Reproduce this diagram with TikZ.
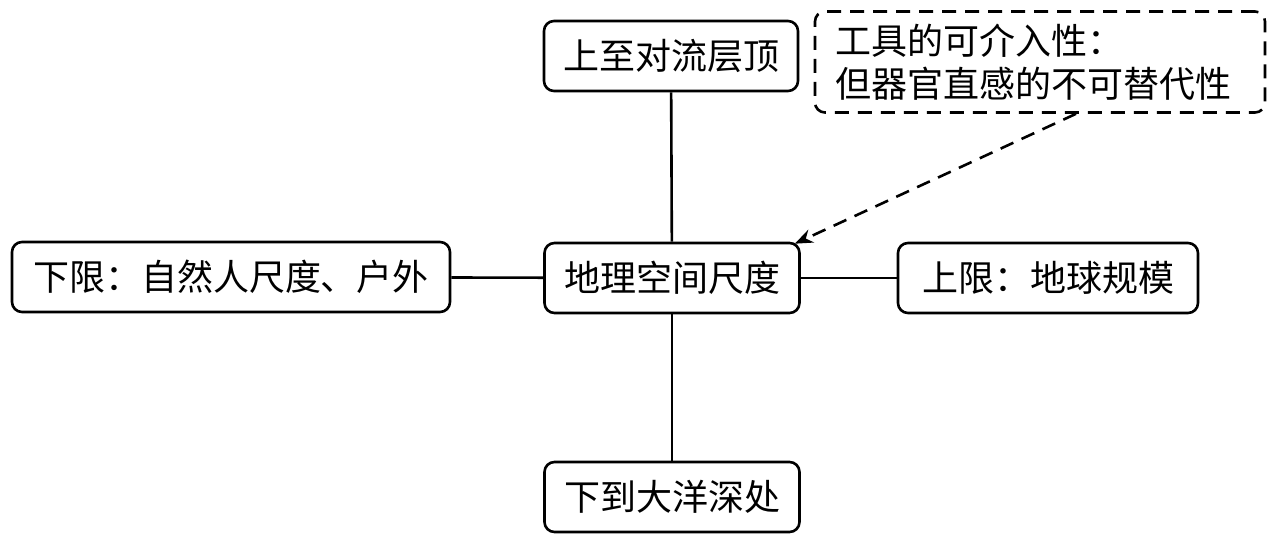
\documentclass[tikz,border=0pt]{standalone}
\usepackage{fontspec}
\setmainfont{Noto Sans CJK SC}
\usetikzlibrary{positioning,arrows.meta,calc}

\begin{document}
\begin{tikzpicture}[
    x=0.5pt, y=-0.5pt,
    box/.style={
        draw, rounded corners=5pt, minimum height=35pt,
        align=center, font=\fontsize{18}{21.5}\selectfont, line width=1.3pt,
        inner sep=0pt
    },
    note/.style={
        box, dashed, dash pattern=on 7pt off 4.5pt, align=left
    },
    link/.style={line width=1.3pt},
    dashed arr/.style={-{Stealth[length=9pt,width=7pt]}, line width=1.3pt,
        dash pattern=on 7pt off 4.5pt}
]
    \useasboundingbox (0,0) rectangle (1271,536);

    \node[box, minimum width=127.5pt] (hub) at (672, 278) {地理空间尺度};
    \node[box, minimum width=127pt] (top) at (671, 56) {上至对流层顶};
    \node[box, minimum width=127.5pt] (bottom) at (672, 497) {下到大洋深处};
    \node[box, minimum width=219pt] (lower) at (231, 277) {下限：自然人尺度、户外};
    \node[box, minimum width=150pt] (upper) at (1048, 278) {上限：地球规模};

    \node[note, minimum width=225pt, minimum height=50.5pt, text width=205pt] (tool) at (1040, 62)
        {工具的可介入性：\\但器官直感的不可替代性};

    \draw[link] (hub) -- (top);
    \draw[link] (hub) -- (bottom);
    \draw[link] (hub) -- (lower);
    \draw[link] (hub) -- (upper);
    \draw[dashed arr] ([xshift=18pt]tool.south) -- ([xshift=-3pt,yshift=-1pt]hub.north east);
\end{tikzpicture}
\end{document}
